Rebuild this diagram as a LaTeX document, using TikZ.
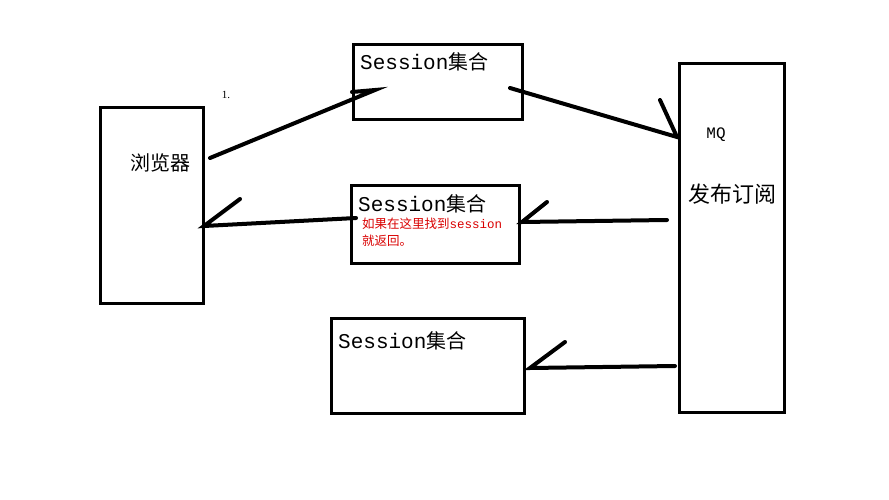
\documentclass[tikz,border=0pt]{standalone}
\usepackage{fontspec}
\setmainfont{Liberation Serif}
\setmonofont{Liberation Mono}
\newfontfamily\cjk{Noto Sans CJK SC}
\begin{document}
\begin{tikzpicture}[x=1pt,y=-1pt,
  box/.style={draw,line width=3pt},
  con/.style={line width=4pt},
  lbl/.style={anchor=west,inner sep=0,font=\fontsize{20}{22}\selectfont}]
\useasboundingbox (0,0) rectangle (889,500);
\node[box,minimum width=103pt,minimum height=195pt] (br) at (151.5,205.5) {};
\node[box,minimum width=169pt,minimum height=75pt] (s1) at (437.5,82.5) {};
\node[box,minimum width=168pt,minimum height=78pt] (s2) at (435,224) {};
\node[box,minimum width=193pt,minimum height=95pt] (s3) at (427.5,365.5) {};
\node[box,minimum width=105pt,minimum height=348pt] (mq) at (731.5,238) {};
\node[inner sep=0,font=\fontsize{11}{12}\selectfont] (one) at (226,95) {1.};
\node[inner sep=0,font=\cjk\fontsize{20}{22}\selectfont] (brt) at (160,163) {浏览器};
\node[lbl] (t1) at (360,62) {{\ttfamily\fontsize{21}{22}\selectfont Session}{\cjk 集合}};
\node[lbl] (t2) at (358,204) {{\ttfamily\fontsize{21}{22}\selectfont Session}{\cjk 集合}};
\node[lbl] (t3) at (338,341) {{\ttfamily\fontsize{21}{22}\selectfont Session}{\cjk 集合}};
\node[anchor=west,inner sep=0,text=red!85!black,font=\cjk\fontsize{12.5}{17}\selectfont,align=left] (red) at (362,232) {如果在这里找到{\ttfamily session}\\就返回。};
\node[inner sep=0,font=\ttfamily\fontsize{16}{18}\selectfont] (mqt) at (716,135) {MQ};
\node[inner sep=0,font=\cjk\fontsize{22}{24}\selectfont] (pub) at (732,194) {发布订阅};
\coordinate (a1s) at (210,158); \coordinate (a1e) at (375,90); \coordinate (a1b) at (352,92);
\coordinate (a2s) at (510,88); \coordinate (a2e) at (677,137); \coordinate (a2b) at (660,100);
\coordinate (a3s) at (667,220); \coordinate (a3e) at (522,222); \coordinate (a3b) at (547,202);
\coordinate (a4s) at (356,218); \coordinate (a4e) at (204,226); \coordinate (a4b) at (240,199);
\coordinate (a5s) at (675,366); \coordinate (a5e) at (530,368); \coordinate (a5b) at (565,342);
\draw[con,line cap=round] (a1s) -- (a1e) -- (a1b);
\draw[con,line cap=round] (a2s) -- (a2e) -- (a2b);
\draw[con,line cap=round] (a3s) -- (a3e) -- (a3b);
\draw[con,line cap=round] (a4s) -- (a4e) -- (a4b);
\draw[con,line cap=round] (a5s) -- (a5e) -- (a5b);
\end{tikzpicture}
\end{document}
